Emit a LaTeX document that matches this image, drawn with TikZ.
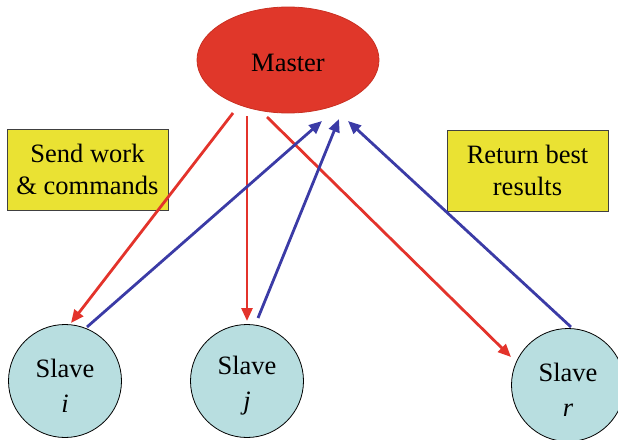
\documentclass[tikz,border=0pt]{standalone}
\usepackage{fontspec}
\setmainfont{Liberation Serif}
\usetikzlibrary{shapes.geometric,arrows.meta}
\definecolor{mred}{HTML}{E0372A}
\definecolor{mredd}{HTML}{C93022}
\definecolor{ared}{HTML}{E3332B}
\definecolor{ablue}{HTML}{3B3BA6}
\definecolor{syel}{HTML}{EAE233}
\definecolor{scyan}{HTML}{B8DEE0}
\tikzset{
  txt/.style={font=\fontsize{26.5}{32}\selectfont, align=center},
  slavetxt/.style={font=\fontsize{26.5}{35}\selectfont, align=center},
  masterbox/.style={ellipse, fill=mred, draw=mredd, line width=0.8pt, minimum width=182pt, minimum height=106pt, inner sep=0pt},
  notebox/.style={rectangle, fill=syel, draw=black!75, line width=0.8pt, minimum width=161pt, minimum height=81pt, inner sep=0pt, txt},
  slavebox/.style={circle, fill=scyan, draw=black, line width=0.8pt, minimum size=113pt, inner sep=0pt},
  redarr/.style={draw=ared, line width=2.8pt, -{Triangle[length=13pt,width=11pt]}},
  bluearr/.style={draw=ablue, line width=2.8pt, -{Triangle[length=13pt,width=11pt]}}
}
\begin{document}
\begin{tikzpicture}[x=1pt,y=-1pt]
\useasboundingbox (0,0) rectangle (618,439);
\node[masterbox, label={[txt, yshift=-3pt]center:Master}] (master) at (288,60) {};
\node[notebox] (send) at (87.5,169.5) {Send work\\\& commands};
\node[notebox] (ret) at (527.5,170.5) {Return best\\results};
\node[slavebox, label={[slavetxt, yshift=-5pt]center:Slave\\\textit{i}}] (si) at (65,381) {};
\node[slavebox, label={[slavetxt, yshift=-5pt]center:Slave\\\textit{j}}] (sj) at (247,381) {};
\node[slavebox, label={[slavetxt, yshift=-5pt]center:Slave\\\textit{r}}] (sr) at (568,385) {};
% ends
\coordinate (m1) at (233,113);
\coordinate (m2) at (247,116);
\coordinate (m3) at (267,117);
\coordinate (b1) at (322,121);
\coordinate (b2) at (339,119);
\coordinate (b3) at (348,121);
\coordinate (ti) at (71,323);
\coordinate (tj) at (247,321);
\coordinate (tr) at (511,357);
\coordinate (fi) at (87,327);
\coordinate (fj) at (258,318);
\coordinate (fr) at (571,327);
\draw[redarr] (m1) -- (ti);
\draw[redarr] (m2) -- (tj);
\draw[redarr] (m3) -- (tr);
\draw[bluearr] (fi) -- (b1);
\draw[bluearr] (fj) -- (b2);
\draw[bluearr] (fr) -- (b3);
\end{tikzpicture}
\end{document}
